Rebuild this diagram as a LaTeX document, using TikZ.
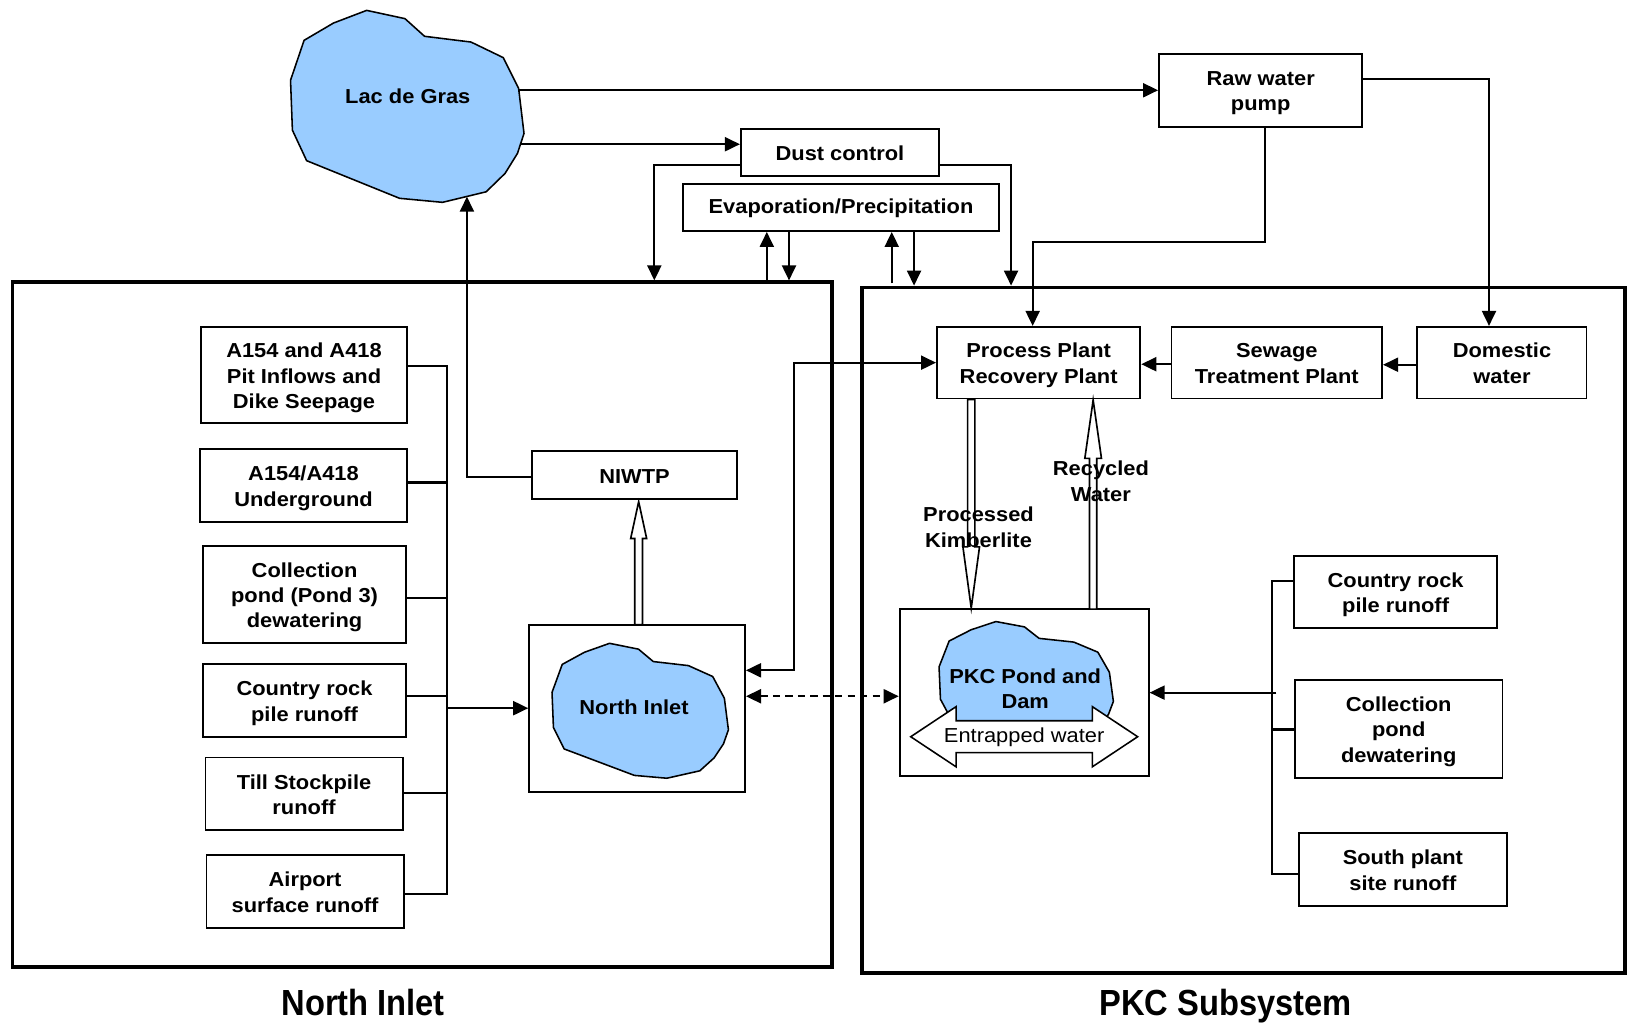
\documentclass[tikz,border=0pt]{standalone}
\usepackage{fontspec}
\setmainfont{Liberation Sans}[FakeStretch=1.08]
\newfontfamily\titlefont{Liberation Sans}[FakeStretch=0.9]
\usetikzlibrary{arrows.meta,calc}
\definecolor{lakeblue}{RGB}{153,204,255}
\newcommand\lbl{\fontsize{19.5}{24.5}\selectfont\bfseries}
\newcommand\bx[1]{\raisebox{-2.8pt}[\height][\depth]{\begin{tabular}{@{}c@{}}#1\end{tabular}}}
\newcommand\bo[1]{\raisebox{-1pt}[\height][\depth]{#1}}
\newcommand\lakeshape[4]{%
  \begin{scope}[shift={(#1,#2)},xscale=#3,yscale=#4]
  \filldraw[lake] (0.326,0) -- (0.490,0.043) -- (0.574,0.135) -- (0.773,0.165) -- (0.911,0.246) -- (0.977,0.407) -- (1.0,0.641) -- (0.972,0.745) -- (0.919,0.849) -- (0.838,0.945) -- (0.651,1.0) -- (0.467,0.979) -- (0.069,0.783) -- (0.008,0.624) -- (0.0,0.364) -- (0.058,0.156) -- (0.184,0.066) -- cycle;
  \end{scope}}
\begin{document}
\begin{tikzpicture}[x=1pt,y=-1pt,
  box/.style={draw, line width=1.8pt, align=center, inner sep=0pt, font=\lbl},
  bigbox/.style={draw, line width=3.5pt, inner sep=0pt},
  arr/.style={line width=2pt, -{Triangle[length=14.5pt,width=13.5pt]}},
  biarr/.style={line width=2pt, {Triangle[length=14.5pt,width=13.5pt]}-{Triangle[length=14.5pt,width=13.5pt]}},
  ln/.style={line width=2pt},
  lake/.style={fill=lakeblue, draw=black, line width=1.5pt, line join=round},
  hollow/.style={draw, line width=1.6pt, fill=white, line join=miter},
  txt/.style={font=\lbl, align=center, inner sep=0pt}]
\useasboundingbox (0,0) rectangle (1568,986);
\fill[white] (0,0) rectangle (1568,986);

% subsystem frames
\node[bigbox, minimum width=790pt, minimum height=660pt] (nib) at (407,602) {};
\node[bigbox, minimum width=735pt, minimum height=661pt] (pkb) at (1198.5,607.5) {};

% Lac de Gras
\lakeshape{280}{10}{225}{185}
\node[txt] (lac) at (393,93) {Lac de Gras};
\coordinate (lacE1) at (500,87);
\coordinate (lacE2) at (501.6,139);
\coordinate (lacS) at (450,189.5);

% top boxes
\node[box, minimum width=196pt, minimum height=70pt] (rwp) at (1215,87) {\bx{Raw water\\pump}};
\node[box, minimum width=191pt, minimum height=45.5pt] (dc) at (809.5,146.7) {\bo{Dust control}};
\node[box, minimum width=305pt, minimum height=45.6pt] (ep) at (810.5,199.8) {\bo{Evaporation/Precipitation}};

% North Inlet sources
\node[box, minimum width=198pt, minimum height=93pt] (s1) at (293,361.5) {\bx{A154 and A418\\Pit Inflows and\\Dike Seepage}};
\node[box, minimum width=199pt, minimum height=70pt] (s2) at (292.5,468) {\bx{A154/A418\\Underground}};
\node[box, minimum width=195pt, minimum height=94pt] (s3) at (293.5,573) {\bx{Collection\\pond (Pond 3)\\dewatering}};
\node[box, minimum width=195pt, minimum height=70pt] (s4) at (293.5,675) {\bx{Country rock\\pile runoff}};
\node[box, minimum width=190pt, minimum height=70pt] (s5) at (293,765) {\bx{Till Stockpile\\runoff}};
\node[box, minimum width=190pt, minimum height=70pt] (s6) at (294,859) {\bx{Airport\\surface runoff}};

\node[box, minimum width=197pt, minimum height=46pt] (niwtp) at (611.5,458) {\bo{NIWTP}};
\node[box, minimum width=208pt, minimum height=161pt] (nibox) at (614,682.5) {};
\lakeshape{532}{620}{170}{130}
\node[txt] (nilabel) at (611,682) {North Inlet};

% PKC subsystem
\node[box, minimum width=196pt, minimum height=69pt] (pp) at (1001,349.5) {\bx{Process Plant\\Recovery Plant}};
\node[box, minimum width=203pt, minimum height=69pt] (stp) at (1230.5,349.5) {\bx{Sewage\\Treatment Plant}};
\node[box, minimum width=163pt, minimum height=69pt] (dw) at (1447.5,349.5) {\bx{Domestic\\water}};
\node[box, minimum width=240pt, minimum height=161pt] (pkbox) at (987,667.5) {};
\lakeshape{905}{599}{168}{120}
\draw[hollow, line width=1.5pt] (877.7,710) -- (921.4,681) -- (921.4,694.6) -- (1052.7,694.6) -- (1052.7,681) -- (1096.4,710) -- (1052.7,739) -- (1052.7,725.4) -- (921.4,725.4) -- (921.4,739) -- cycle;
\node[txt] (pklabel) at (988,663.5) {PKC Pond and\\Dam};
\node[font=\fontsize{19.5}{24}\selectfont, inner sep=0pt] (entr) at (987,710.5) {Entrapped water};

\node[box, minimum width=196pt, minimum height=69pt] (r1) at (1345,570.5) {\bx{Country rock\\pile runoff}};
\node[box, minimum width=200pt, minimum height=95pt] (r2) at (1348,702.5) {\bx{Collection\\pond\\dewatering}};
\node[box, minimum width=200pt, minimum height=70pt] (r3) at (1352,838) {\bx{South plant\\site runoff}};

% connectors from Lac de Gras
\draw[arr] (lacE1) -- (lacE1 -| rwp.west);
\draw[arr] (lacE2) -- (lacE2 -| dc.west);
\draw[arr] (dc.west |- 0,159) -- (630.6,159) -- (630.6,0 |- nib.north);
\draw[arr] (dc.east |- 0,159) -- (974.4,159) -- (974.4,0 |- pkb.north);
\draw[arr] (rwp.east |- 0,75.8) -- (1435,75.8) -- (1435,0 |- dw.north);
\draw[arr] (1219,0 |- rwp.south) -- (1219,233) -- (995.2,233) -- (995.2,0 |- pp.north);

% evaporation / precipitation
\draw[arr] (739,0 |- nib.north) -- (739,0 |- ep.south);
\draw[arr] (760.4,0 |- ep.south) -- (760.4,0 |- nib.north);
\draw[arr] (859.4,273) -- (859.4,0 |- ep.south);
\draw[arr] (880.9,0 |- ep.south) -- (880.9,0 |- pkb.north);

% North Inlet collection bus
\draw[ln] (s1.east |- 0,353) -- (431,353) -- (431,862) -- (s6.east |- 0,862);
\foreach \n/\y in {s2/465,s3/576,s4/671,s5/764} \draw[ln] (\n.east |- 0,\y) -- (431,\y);
\draw[arr] (431,0 |- nibox.west) -- (nibox.west);

% NIWTP
\draw[hollow] (611.8,602) -- (611.8,519) -- (607.8,519) -- (615.5,483.5) -- (623.2,519) -- (619.2,519) -- (619.2,602) -- cycle;
\draw[arr] (niwtp.west |- 0,460) -- (450,460) -- (lacS);

% PKC internal
\draw[arr] (dw.west |- 0,351.5) -- (stp.east |- 0,351.5);
\draw[arr] (stp.west |- 0,351) -- (pp.east |- 0,351);
\draw[biarr] (pp.west) -- (765,0 |- pp.west) -- (765,646) -- (nibox.east |- 0,646);
\draw[biarr, dash pattern=on 7pt off 5pt] (nibox.east |- 0,671) -- (pkbox.west |- 0,671);

\draw[hollow] (932.5,385) -- (932.5,527) -- (928,527) -- (936,586) -- (944,527) -- (939.5,527) -- (939.5,385) -- cycle;
\draw[hollow] (1050,587) -- (1050,441.7) -- (1045.5,441.7) -- (1053.5,385.5) -- (1061.5,441.7) -- (1057,441.7) -- (1057,587) -- cycle;
\node[txt] (pklbl) at (943,508) {Processed\\Kimberlite};
\node[txt] (rwlbl) at (1061,464) {Recycled\\Water};

% PKC sources bus
\draw[ln] (r1.west |- 0,560) -- (1226,560) -- (1226,842) -- (r3.west |- 0,842);
\draw[ln] (r2.west |- 0,703) -- (1226,703);
\draw[arr] (1230,0 |- pkbox.east) -- (pkbox.east);

% titles
\node[font=\titlefont\bfseries\fontsize{35}{40}\selectfont, anchor=base, inner sep=0pt] (t1) at (350,978.5) {North Inlet};
\node[font=\titlefont\bfseries\fontsize{35}{40}\selectfont, anchor=base, inner sep=0pt] (t2) at (1181,978.5) {PKC Subsystem};
\end{tikzpicture}
\end{document}
